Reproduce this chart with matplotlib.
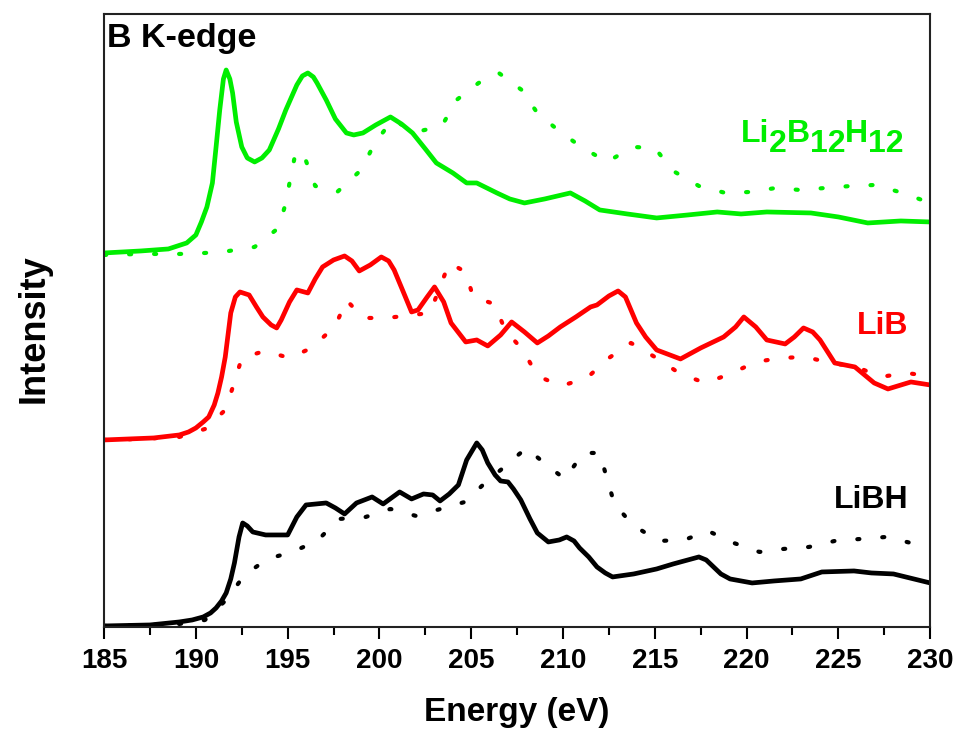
import matplotlib
matplotlib.use('Agg')
import matplotlib.pyplot as plt

plt.rcParams['font.family'] = ['Liberation Sans', 'DejaVu Sans']
plt.rcParams['font.weight'] = 'bold'

# B K-edge spectra (energy in eV, intensity in arbitrary units, offset per sample)
li2b12h12_e = [185.0, 187.0, 188.5, 189.5, 190.0, 190.3, 190.6, 190.9, 191.1, 191.3, 191.5,
               191.65, 191.85, 192.0, 192.2, 192.5, 192.8, 193.2, 193.6, 194.0, 194.5, 194.9,
               195.5, 195.8, 196.1, 196.4, 196.6, 197.1, 197.6, 198.2, 198.6, 199.1, 199.8,
               200.6, 201.2, 201.8, 202.5, 203.1, 204.0, 204.75, 205.3, 206.4, 207.1, 207.9,
               209.0, 210.4, 211.2, 212.0, 213.5, 215.1, 216.8, 218.4, 219.7, 221.1, 223.5,
               225.0, 226.6, 228.4, 230.0]
li2b12h12_i = [374, 376, 378, 384, 392, 405, 420, 444, 480, 517, 548,
               557, 548, 534, 505, 480, 469, 465, 469, 477, 498, 517,
               542, 551, 554, 550, 544, 527, 508, 494, 492, 494, 502,
               510, 503, 494, 478, 464, 454, 444, 444, 434, 428, 424,
               428, 434, 426, 417, 413, 409, 412, 415, 413, 415, 414,
               410, 404, 406, 405]

li2b12h12_ref_e = [185.0, 187.0, 189.1, 190.5, 191.8, 193.2, 194.5, 194.9, 195.15, 195.45,
                   196.0, 196.5, 197.7, 199.0, 199.75, 200.7, 202.0, 203.4, 204.2, 205.4,
                   206.5, 207.75, 208.6, 209.85, 211.0, 212.4, 213.8, 215.0, 216.0, 217.4,
                   218.85, 220.2, 221.6, 222.9, 224.3, 225.7, 227.0, 228.5, 230.0]
li2b12h12_ref_i = [372, 373, 373, 374, 376, 380, 399, 424, 449, 476,
                   466, 441, 435, 457, 484, 507, 495, 501, 527, 544,
                   554, 537, 514, 495, 480, 465, 480, 479, 456, 441,
                   434, 435, 439, 437, 439, 441, 442, 434, 424]

lib_e = [185.0, 187.7, 189.1, 189.6, 190.0, 190.4, 190.7, 191.0, 191.2, 191.4, 191.6,
         191.9, 192.15, 192.4, 192.9, 193.3, 193.65, 194.1, 194.4, 194.65, 195.1, 195.5,
         196.1, 196.5, 196.9, 197.5, 198.1, 198.5, 198.9, 199.5, 200.1, 200.5, 200.8,
         201.3, 201.75, 202.1, 202.6, 203.0, 203.5, 203.9, 204.7, 205.3, 205.9, 206.6,
         207.2, 207.9, 208.6, 209.2, 209.85, 210.7, 211.5, 211.85, 212.5, 213.0, 213.4,
         214.0, 214.5, 215.1, 216.4, 217.5, 218.75, 219.4, 219.85, 220.5, 221.1, 222.1,
         222.6, 223.1, 223.6, 224.0, 224.8, 225.9, 226.95, 227.7, 228.95, 230.0]
lib_i = [187, 189, 192, 195, 199, 205, 210, 222, 234, 250, 270,
         314, 330, 335, 332, 320, 310, 302, 299, 307, 325, 337,
         334, 348, 360, 367, 371, 366, 356, 362, 370, 366, 357,
         335, 315, 317, 330, 340, 325, 304, 285, 287, 281, 292,
         305, 295, 284, 291, 300, 310, 320, 322, 331, 336, 330,
         304, 290, 277, 268, 279, 290, 300, 310, 300, 287, 283,
         290, 299, 295, 287, 264, 260, 244, 238, 245, 242]

lib_ref_e = [185.0, 187.0, 189.1, 190.5, 191.6, 192.05, 192.5, 193.75, 195.1, 196.3,
             197.6, 198.2, 199.1, 200.4, 202.75, 203.8, 204.7, 205.1, 206.25, 206.85,
             207.85, 208.6, 209.9, 211.3, 212.5, 213.7, 215.0, 216.4, 217.75, 219.1,
             220.5, 221.85, 223.2, 224.6, 226.0, 227.3, 228.7, 229.9]
lib_ref_i = [187, 188, 190, 198, 217, 242, 269, 276, 269, 279,
             301, 327, 309, 309, 314, 364, 355, 330, 323, 297,
             276, 251, 241, 249, 269, 284, 270, 253, 244, 253,
             265, 269, 270, 264, 260, 250, 254, 251]

libh_e = [185.0, 187.5, 189.1, 189.8, 190.4, 190.8, 191.1, 191.4, 191.65, 191.9, 192.1,
          192.35, 192.55, 192.8, 193.1, 193.8, 195.0, 195.5, 196.0, 197.1, 197.6, 198.1,
          198.75, 199.6, 200.2, 201.1, 201.75, 202.4, 202.9, 203.3, 203.8, 204.3, 204.75,
          205.3, 205.6, 205.9, 206.3, 206.6, 207.0, 207.3, 207.7, 208.2, 208.6, 209.2,
          209.8, 210.2, 210.6, 210.9, 211.4, 211.85, 212.3, 212.7, 213.85, 215.1, 216.0,
          217.4, 217.8, 218.2, 218.6, 219.1, 220.3, 221.5, 222.95, 224.1, 225.85, 226.8,
          228.0, 230.0]
libh_i = [1, 2, 5, 7, 10, 14, 19, 26, 34, 48, 64,
          90, 104, 101, 95, 92, 92, 110, 122, 124, 119, 113,
          124, 130, 123, 135, 128, 133, 132, 126, 133, 142, 167,
          184, 177, 164, 152, 146, 145, 138, 127, 108, 94, 85,
          87, 90, 86, 79, 70, 60, 54, 50, 53, 58, 63,
          70, 67, 60, 53, 48, 44, 46, 48, 55, 56, 54,
          53, 44]

libh_ref_e = [185.0, 187.5, 189.1, 190.5, 191.65, 192.65, 193.9, 195.25, 196.6, 197.8,
              199.25, 200.6, 202.0, 204.65, 205.75, 206.8, 208.0, 209.1, 210.1, 211.1,
              212.0, 212.4, 212.8, 213.8, 215.2, 216.6, 217.9, 219.3, 220.7, 222.0,
              223.4, 224.8, 226.2, 227.6, 228.95]
libh_ref_i = [1, 2, 3, 7, 27, 52, 68, 75, 86, 108,
              110, 118, 111, 125, 144, 160, 179, 162, 148, 174,
              174, 148, 123, 102, 86, 87, 96, 84, 75, 78,
              80, 86, 88, 90, 84]

GREEN = '#00ee00'
RED = '#ff0000'
BLACK = '#000000'
dots = (0, (0.5, 5.5))

fig = plt.figure(figsize=(9.55, 7.35), dpi=100)
ax = fig.add_axes([0.109, 0.147, 0.865, 0.834])

ax.plot(li2b12h12_ref_e, li2b12h12_ref_i, color=GREEN, lw=3, linestyle=dots, dash_capstyle='round')
ax.plot(lib_ref_e, lib_ref_i, color=RED, lw=3, linestyle=dots, dash_capstyle='round')
ax.plot(libh_ref_e, libh_ref_i, color=BLACK, lw=3, linestyle=dots, dash_capstyle='round')
ax.plot(li2b12h12_e, li2b12h12_i, color=GREEN, lw=3.4, solid_joinstyle='round')
ax.plot(lib_e, lib_i, color=RED, lw=3.4, solid_joinstyle='round')
ax.plot(libh_e, libh_i, color=BLACK, lw=3.4, solid_joinstyle='round')

ax.set_xlim(185, 230)
ax.set_ylim(0, 613)
ax.set_xticks(range(185, 231, 5))
ax.set_xticks([187.5 + 5 * k for k in range(9)], minor=True)
ax.set_yticks([])
ax.tick_params(axis='x', which='major', direction='out', length=8.5, width=1.5,
               labelsize=20, pad=7)
ax.tick_params(axis='x', which='minor', direction='out', length=5.5, width=1.5)
for lab in ax.get_xticklabels():
    lab.set_fontweight('bold')
for sp in ax.spines.values():
    sp.set_linewidth(1.5)
    sp.set_color('#222222')

ax.set_xlabel('Energy (eV)', fontsize=24, fontweight='bold', labelpad=16)
ax.set_ylabel('Intensity', fontsize=26, fontweight='bold')
ax.yaxis.set_label_coords(-0.063, 0.486)

ax.text(0.004, 0.946, 'B K-edge', transform=ax.transAxes, fontsize=24.5,
        fontweight='bold', ha='left', va='baseline')

# Li2B12H12 label with full-size, lowered subscripts
sub = 7.2
prev = ax.text(219.67, 485, 'Li', color=GREEN, fontsize=23, fontweight='bold',
               ha='left', va='baseline')
for s, dy in [('2', -sub), ('B', sub), ('12', -sub), ('H', sub), ('12', -sub)]:
    prev = ax.annotate(s, xy=(1, 0), xycoords=prev, xytext=(0, dy),
                       textcoords='offset points', color=GREEN, fontsize=23,
                       fontweight='bold', ha='left', va='bottom')

ax.text(228.8, 293, 'LiB', color=RED, fontsize=23, fontweight='bold',
        ha='right', va='baseline')
ax.text(228.8, 119, 'LiBH', color=BLACK, fontsize=23, fontweight='bold',
        ha='right', va='baseline')

fig.savefig('out.png', dpi=100)
